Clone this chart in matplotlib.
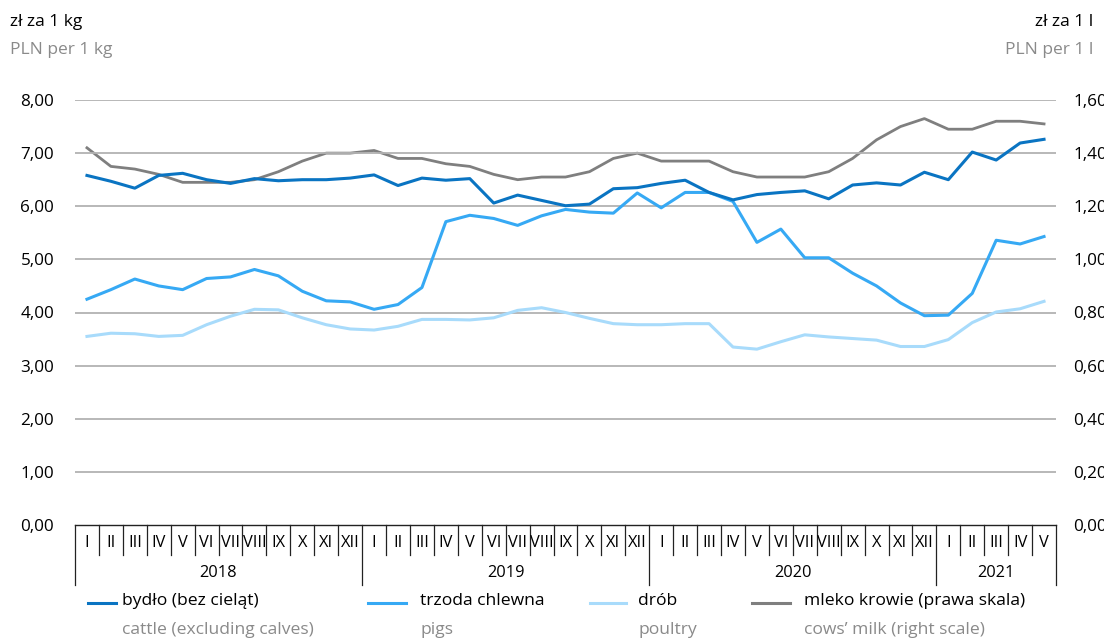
import matplotlib
matplotlib.use("Agg")
import matplotlib.pyplot as plt
import matplotlib.transforms as mtransforms
import numpy as np

plt.rcParams['font.family'] = ['Open Sans', 'DejaVu Sans']

months = ["I", "II", "III", "IV", "V", "VI", "VII", "VIII", "IX", "X", "XI", "XII"]
years = ["2018", "2019", "2020", "2021"]
months_per_year = [12, 12, 12, 5]
month_labels = months * 3 + months[:5]

cattle = [6.58, 6.47, 6.34, 6.58, 6.62, 6.50, 6.43, 6.52, 6.48, 6.50, 6.50, 6.53,
          6.59, 6.39, 6.53, 6.49, 6.52, 6.06, 6.21, 6.11, 6.01, 6.04, 6.33, 6.35,
          6.43, 6.49, 6.26, 6.12, 6.22, 6.26, 6.29, 6.14, 6.40, 6.44, 6.40, 6.64,
          6.50, 7.02, 6.87, 7.19, 7.26]
pigs = [4.25, 4.43, 4.63, 4.50, 4.43, 4.64, 4.67, 4.81, 4.69, 4.40, 4.22, 4.20,
        4.06, 4.15, 4.47, 5.71, 5.83, 5.77, 5.64, 5.82, 5.94, 5.89, 5.87, 6.25,
        5.97, 6.26, 6.26, 6.09, 5.32, 5.57, 5.03, 5.03, 4.74, 4.50, 4.18, 3.94,
        3.95, 4.36, 5.36, 5.29, 5.43]
poultry = [3.55, 3.61, 3.60, 3.55, 3.57, 3.77, 3.93, 4.06, 4.05, 3.90, 3.77, 3.69,
           3.67, 3.74, 3.87, 3.87, 3.86, 3.90, 4.04, 4.09, 4.00, 3.89, 3.79, 3.77,
           3.77, 3.79, 3.79, 3.35, 3.31, 3.45, 3.58, 3.54, 3.51, 3.48, 3.36, 3.36,
           3.49, 3.81, 4.01, 4.07, 4.21]
milk = [1.42, 1.35, 1.34, 1.32, 1.29, 1.29, 1.29, 1.30, 1.33, 1.37, 1.40, 1.40,
        1.41, 1.38, 1.38, 1.36, 1.35, 1.32, 1.30, 1.31, 1.31, 1.33, 1.38, 1.40,
        1.37, 1.37, 1.37, 1.33, 1.31, 1.31, 1.31, 1.33, 1.38, 1.45, 1.50, 1.53,
        1.49, 1.49, 1.52, 1.52, 1.51]

left_ticks = [0, 1, 2, 3, 4, 5, 6, 7, 8]
right_ticks = [0.0, 0.2, 0.4, 0.6, 0.8, 1.0, 1.2, 1.4, 1.6]

names_pl = ["bydło (bez cieląt)", "trzoda chlewna", "drób", "mleko krowie (prawa skala)"]
names_en = ["cattle (excluding calves)", "pigs", "poultry", "cows\u2019 milk (right scale)"]

c_cattle = "#0a74c2"
c_pigs = "#36a9f4"
c_poultry = "#a8dbfb"
c_milk = "#7f7f7f"
grid_c = "#b2b2b2"
sub_c = "#8a8a8a"

W, H = 1104, 640
fig = plt.figure(figsize=(W / 100, H / 100), dpi=100)
L, R, B, T = 75, 1056, 525, 100
ax = fig.add_axes([L / W, 1 - B / H, (R - L) / W, (B - T) / H])
ax2 = ax.twinx()

x = np.arange(len(cattle))
ax.set_xlim(-0.5, len(cattle) - 0.5)
ax.set_ylim(0, 8)
ax2.set_ylim(0, 1.6)

for v in left_ticks[1:]:
    ax.axhline(v, color=grid_c, lw=1.3, zorder=1)

ax2.plot(x, milk, color=c_milk, lw=2.0, zorder=3, solid_joinstyle='round')
ax.plot(x, poultry, color=c_poultry, lw=2.2, zorder=3, solid_joinstyle='round')
ax.plot(x, pigs, color=c_pigs, lw=2.2, zorder=3, solid_joinstyle='round')
ax.plot(x, cattle, color=c_cattle, lw=2.2, zorder=3, solid_joinstyle='round')
ax.set_zorder(ax2.get_zorder() + 1)
ax.patch.set_visible(False)

for a in (ax, ax2):
    for s in a.spines.values():
        s.set_visible(False)

ax.set_yticks(left_ticks)
ax.set_yticklabels([f"{v:.2f}".replace(".", ",") for v in left_ticks], fontsize=12.3)
ax.tick_params(axis='y', length=0, pad=15)
ax2.set_yticks(right_ticks)
ax2.set_yticklabels([f"{v:.2f}".replace(".", ",") for v in right_ticks], fontsize=12.3)
ax2.tick_params(axis='y', length=0, pad=12.5)
ax.set_xticks([])
ax2.set_xticks([])

# category axis
trans = mtransforms.blended_transform_factory(ax.transData, ax.transAxes)
px = 1.0 / (B - T)
ax.plot([-0.5, len(cattle) - 0.5], [0, 0], color="#222222", lw=1.0, transform=trans, clip_on=False, zorder=4)
boundaries = np.cumsum([0] + months_per_year) - 0.5
for i in range(len(cattle) + 1):
    xb = i - 0.5
    if np.any(np.isclose(boundaries, xb)):
        y1 = -60 * px
    else:
        y1 = -30 * px
    ax.plot([xb, xb], [0, y1], color="#222222", lw=0.9, transform=trans, clip_on=False)
for i, lab in enumerate(month_labels):
    ax.text(i, -18 * px, lab, ha='center', va='center', fontsize=11.8, transform=trans)
for k, yr in enumerate(years):
    xc = (boundaries[k] + boundaries[k + 1]) / 2
    ax.text(xc, -48 * px, yr, ha='center', va='center', fontsize=11.8, transform=trans)

# headers
fig.text(10 / W, 1 - 22 / H, "zł za 1 kg", fontsize=12.5, ha='left', va='center')
fig.text(10 / W, 1 - 50 / H, "PLN per 1 kg", fontsize=12.5, ha='left', va='center', color=sub_c)
fig.text(1093 / W, 1 - 22 / H, "zł za 1 l", fontsize=12.5, ha='right', va='center')
fig.text(1093 / W, 1 - 50 / H, "PLN per 1 l", fontsize=12.5, ha='right', va='center', color=sub_c)

# legend
leg_items = [(88, 116, 122, c_cattle), (368, 406, 420, c_pigs), (590, 626, 638, c_poultry), (752, 790, 804, c_milk)]
for (x0, x1, xt, col), pl, en in zip(leg_items, names_pl, names_en):
    fig.add_artist(plt.Line2D([x0 / W, x1 / W], [1 - 603 / H, 1 - 603 / H], color=col, lw=2.2))
    fig.text(xt / W, 1 - 601 / H, pl, fontsize=12.6, ha='left', va='center')
    fig.text(xt / W, 1 - 630 / H, en, fontsize=12.6, ha='left', va='center', color=sub_c)

fig.savefig("out.png", dpi=100)
